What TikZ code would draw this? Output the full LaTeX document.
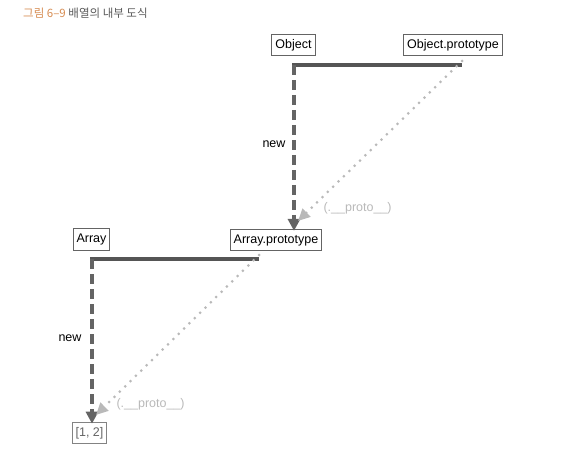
\documentclass[tikz,border=0pt]{standalone}
\usepackage{fontspec}
\setmainfont{Liberation Sans}
\newfontfamily\kofont{Noto Sans CJK KR}
\usetikzlibrary{arrows.meta}
\definecolor{titleorange}{RGB}{214,140,82}
\definecolor{titlegray}{RGB}{90,90,90}
\definecolor{boxgray}{RGB}{100,100,100}
\definecolor{linegray}{RGB}{85,85,85}
\definecolor{protogray}{RGB}{185,185,185}
\newcommand{\protolabel}{\color{protogray}(.\_\_proto\_\_)}

\tikzset{
  objbox/.style = {draw = boxgray, line width = 1pt, inner xsep = 3.5pt, inner ysep = 5pt, font = \fontsize{12.5}{14}\selectfont},
  bar/.style = {line width = 3.5pt, draw = linegray},
  newarrow/.style = {line width = 3.2pt, draw = boxgray, dash pattern = on 10pt off 5pt, -{Triangle[length=12pt, width=12pt, fill=boxgray]}},
  protoarrow/.style = {line width = 3pt, draw = protogray, line cap = round, dash pattern = on 0pt off 7.5pt, -{Triangle[length=12pt, width=11pt, fill=protogray, line cap=butt]}},
  lbl/.style = {font = \fontsize{12.5}{14}\selectfont}
}

\begin{document}
\begin{tikzpicture}[x = 1pt, y = -1pt]
\useasboundingbox (0,0) rectangle (562,457);
\node[anchor = west, inner sep = 0pt] (title) at (23,13) {\kofont\fontsize{11.5}{13}\selectfont\color{titleorange}그림 6–9 \color{titlegray}배열의 내부 도식};

\node[objbox] (v1) at (293.5,45) {Object};
\node[objbox] (v2) at (453,45) {Object.prototype};
\node[objbox] (v3) at (91.5,239.5) {Array};
\node[objbox] (v4) at (276,240) {Array.prototype};
\node[objbox, draw = boxgray!80] (v5) at (89.5,433) {\color{boxgray}[1, 2]};

\coordinate (c1) at (294,65);
\coordinate (c2) at (462,65);
\coordinate (c3) at (92,259);
\coordinate (c4) at (259,259);

\draw [bar] ([yshift=-1.75pt]c1) -- (c1) -- (c2);
\draw [bar] ([yshift=-1.75pt]c3) -- (c3) -- (c4);

\draw [newarrow] (c1) -- ([yshift=-2pt]v4.north -| c1);
\draw [newarrow] (c3) -- ([yshift=-2pt]v5.north -| c3);
\draw [protoarrow] ([yshift=4pt]c2) -- (298,221);
\draw [protoarrow] ([yshift=4pt]c4) -- (96,415);

\node[lbl, anchor = east] (n1) at (289,144) {new};
\node[lbl, anchor = east] (n2) at (85,338) {new};
\node[lbl, anchor = west] (p1) at (320,208) {\protolabel};
\node[lbl, anchor = west] (p2) at (113,404) {\protolabel};
\end{tikzpicture}
\end{document}
